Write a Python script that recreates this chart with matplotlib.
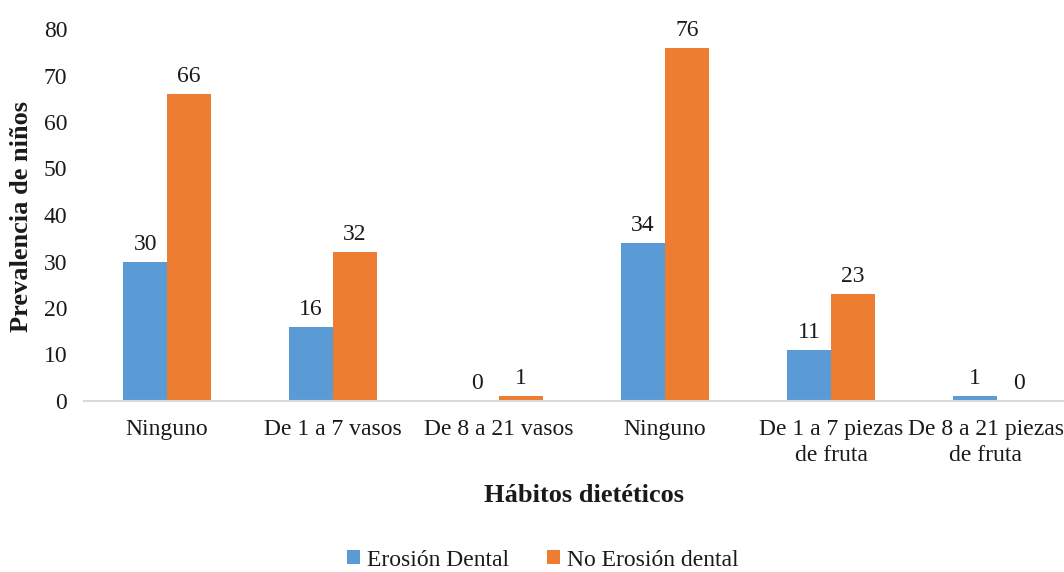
import matplotlib
matplotlib.use("Agg")
import matplotlib.pyplot as plt
import matplotlib.transforms as mtransforms
import numpy as np

categories = ["Ninguno", "De 1 a 7 vasos", "De 8 a 21 vasos", "Ninguno",
              "De 1 a 7 piezas\nde fruta", "De 8 a 21 piezas\nde fruta"]
erosion = [30, 16, 0, 34, 11, 1]
no_erosion = [66, 32, 1, 76, 23, 0]
series_names = ["Erosión Dental", "No Erosión dental"]
yticks = [0, 10, 20, 30, 40, 50, 60, 70, 80]

blue = "#5B9BD5"
orange = "#ED7D31"
text_color = "#1a1a1a"

plt.rcParams["font.family"] = ["Liberation Serif", "DejaVu Serif"]

W, H = 1064, 572
fig = plt.figure(figsize=(W / 100, H / 100), dpi=100)
left, right, top, bottom = 84, 1080, 29, 401
ax = fig.add_axes([left / W, 1 - bottom / H, (right - left) / W, (bottom - top) / H])

x = np.arange(len(categories))
bw = 0.263
b1 = ax.bar(x - bw / 2, erosion, bw, color=blue, label=series_names[0])
b2 = ax.bar(x + bw / 2, no_erosion, bw, color=orange, label=series_names[1])

for bars, vals in ((b1, erosion), (b2, no_erosion)):
    for rect, v in zip(bars, vals):
        ax.annotate(f"{v}", (rect.get_x() + rect.get_width() / 2, v),
                    xytext=(0, 5), textcoords="offset points",
                    ha="center", va="bottom", fontsize=17, color=text_color)

ax.set_xlim(-0.5, len(categories) - 0.5)
ax.set_ylim(0, 80)
ax.set_yticks(yticks)
ax.set_xticks(x)
ax.set_xticklabels(categories, fontsize=17, color=text_color, linespacing=1.3)
ax.tick_params(axis="y", labelsize=17, colors=text_color, length=0, pad=12)
ax.tick_params(axis="x", length=0, pad=13)

# nudge the last category label inward so it stays mostly inside the figure
last = ax.get_xticklabels()[-1]
last.set_transform(last.get_transform() +
                   mtransforms.ScaledTranslation(-8 / 72, 0, fig.dpi_scale_trans))

for s in ("top", "right", "left"):
    ax.spines[s].set_visible(False)
ax.spines["bottom"].set_color("#D9D9D9")
ax.spines["bottom"].set_linewidth(1.5)

fig.text(22 / W, 1 - 216 / H, "Prevalencia de niños", rotation=90,
         ha="center", va="center", fontsize=19, fontweight="bold", color=text_color)
fig.text(584 / W, 1 - 495 / H, "Hábitos dietéticos", ha="center", va="center",
         fontsize=19, fontweight="bold", color=text_color)

fig.legend(handles=[b1, b2], labels=series_names, loc="center",
           bbox_to_anchor=(543 / W, 1 - 560 / H), ncol=2, frameon=False,
           fontsize=17, handlelength=0.55, handleheight=0.55, handletextpad=0.3,
           columnspacing=1.6, labelcolor=text_color)

fig.savefig("out.png", dpi=100)
